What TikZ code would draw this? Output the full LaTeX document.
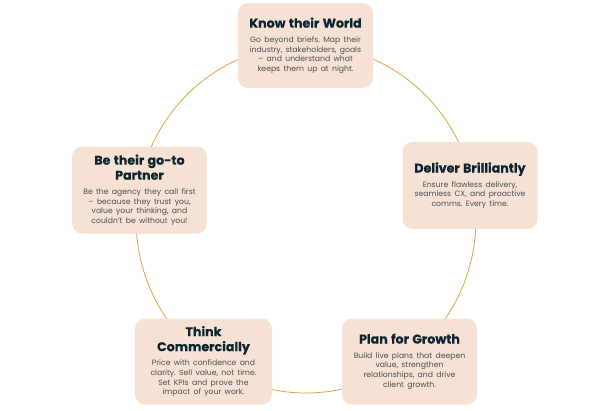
\documentclass[tikz,border=0pt]{standalone}
\usepackage{fontspec}
\setmainfont{Poppins}
\newfontfamily\heavyfont{Poppins}[UprightFont=*-Bold, FakeBold=0.4]
\frenchspacing
\definecolor{cardfill}{HTML}{F6E2D4}
\definecolor{titlecol}{HTML}{0B2530}
\definecolor{bodycol}{HTML}{4A4E52}
\definecolor{ringcol}{HTML}{D9A543}
\newcommand{\cardtitle}{\fontsize{12.6bp}{15bp}\heavyfont\color{titlecol}}
\newcommand{\cardbody}{\fontsize{7.7bp}{9.7bp}\selectfont\color{bodycol}}
\newcommand{\cardtext}[2]{{\cardtitle #1\par}\vspace{5bp}{\cardbody #2\par}}
\begin{document}
\begin{tikzpicture}[x=1bp,y=-1bp,
  card/.style={rectangle, rounded corners=10bp, fill=cardfill, inner sep=0pt,
    align=center, text width=132bp, minimum width=135bp, minimum height=85bp}]
\useasboundingbox (0,0) rectangle (612,410);
\draw[ringcol, line width=0.8bp] (306,219) ellipse [x radius=170bp, y radius=174bp];
\node[card] (world) at (305.5,45.5) {\cardtext{Know their World}{Go beyond briefs. Map their\\industry, stakeholders, goals\\– and understand what\\keeps them up at night.}};
\node[card, minimum height=87bp] (deliver) at (470,185.5) {\cardtext{Deliver Brilliantly}{Ensure flawless delivery,\\seamless CX, and proactive\\comms. Every time.}};
\node[card, minimum height=86bp] (growth) at (409.5,361.5) {\cardtext{Plan for Growth}{Build live plans that deepen\\value, strengthen\\relationships, and drive\\client growth.}};
\node[card, minimum width=137bp, minimum height=86bp] (commercial) at (203.5,361.5) {\cardtext{Think\\Commercially}{Price with confidence and\\clarity. Sell value, not time.\\Set KPIs and prove the\\impact of your work.}};
\node[card, minimum height=87bp] (partner) at (139.5,190) {\cardtext{Be their go-to\\Partner}{Be the agency they call first\\– because they trust you,\\value your thinking, and\\couldn't be without you!}};
\end{tikzpicture}
\end{document}
